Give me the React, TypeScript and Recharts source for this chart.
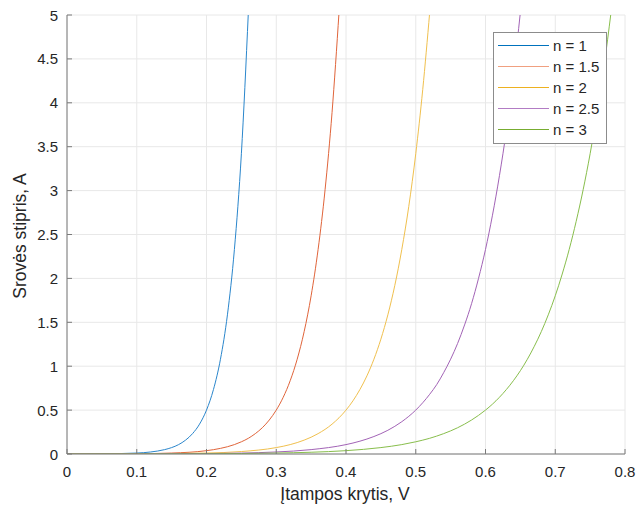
import React from 'react';
import { LineChart, Line, XAxis, YAxis, CartesianGrid } from 'recharts';

const xTicks = [0, 0.1, 0.2, 0.3, 0.4, 0.5, 0.6, 0.7, 0.8];
const yTicks = [0, 0.5, 1, 1.5, 2, 2.5, 3, 3.5, 4, 4.5, 5];
const seriesNames = ['n = 1', 'n = 1.5', 'n = 2', 'n = 2.5', 'n = 3'];
const seriesColors = ['#2a86cc', '#e0643a', '#f0c04e', '#a263b6', '#88be4c'];
const legendColors = ['#0072BD', '#f0a080', '#EDB120', '#b27cc4', '#77AC30'];

// n = 1
const v1 = [0, 0.05, 0.1, 0.12, 0.14, 0.15, 0.16, 0.17, 0.18, 0.19, 0.2, 0.21, 0.22, 0.23, 0.24, 0.25, 0.26];
const i1 = [0, 0.002, 0.011, 0.023, 0.05, 0.073, 0.107, 0.158, 0.232, 0.34, 0.5, 0.735, 1.079, 1.585, 2.33, 3.42, 5.03];
// n = 1.5
const v15 = [0, 0.1, 0.15, 0.2, 0.22, 0.24, 0.25, 0.26, 0.27, 0.28, 0.29, 0.3, 0.31, 0.32, 0.33, 0.34, 0.35, 0.36, 0.37, 0.38, 0.39];
const i15 = [0, 0.003, 0.011, 0.038, 0.064, 0.107, 0.139, 0.179, 0.232, 0.299, 0.387, 0.5, 0.646, 0.835, 1.079, 1.394, 1.802, 2.33, 3.01, 3.89, 5.03];
// n = 2
const v2 = [0, 0.1, 0.2, 0.25, 0.3, 0.32, 0.34, 0.36, 0.38, 0.4, 0.41, 0.42, 0.43, 0.44, 0.45, 0.46, 0.47, 0.48, 0.49, 0.5, 0.51, 0.52];
const i2 = [0, 0.002, 0.011, 0.028, 0.073, 0.107, 0.158, 0.232, 0.34, 0.5, 0.606, 0.735, 0.89, 1.079, 1.308, 1.585, 1.921, 2.33, 2.82, 3.42, 4.15, 5.03];
// n = 2.5
const v25 = [0, 0.1, 0.2, 0.3, 0.35, 0.4, 0.42, 0.44, 0.46, 0.48, 0.5, 0.52, 0.53, 0.54, 0.55, 0.56, 0.57, 0.58, 0.59, 0.6, 0.61, 0.62, 0.63, 0.64, 0.65];
const i25 = [0, 0.001, 0.005, 0.023, 0.05, 0.107, 0.146, 0.199, 0.27, 0.368, 0.5, 0.68, 0.79, 0.926, 1.08, 1.259, 1.47, 1.712, 2.0, 2.33, 2.72, 3.17, 3.69, 4.31, 5.03];
// n = 3
const v3 = [0, 0.1, 0.2, 0.3, 0.35, 0.4, 0.45, 0.48, 0.5, 0.52, 0.54, 0.56, 0.58, 0.6, 0.61, 0.62, 0.63, 0.64, 0.65, 0.66, 0.67, 0.68, 0.69, 0.7, 0.71, 0.72, 0.73, 0.74, 0.75, 0.76, 0.77, 0.78];
const i3 = [0, 0.001, 0.003, 0.011, 0.02, 0.038, 0.073, 0.107, 0.139, 0.179, 0.232, 0.299, 0.387, 0.5, 0.568, 0.646, 0.735, 0.835, 0.949, 1.079, 1.227, 1.394, 1.585, 1.802, 2.05, 2.33, 2.65, 3.01, 3.42, 3.89, 4.42, 5.03];

const toPoints = (v: number[], i: number[]) => v.map((x, k) => ({ v: x, i: i[k] }));
const seriesData = [toPoints(v1, i1), toPoints(v15, i15), toPoints(v2, i2), toPoints(v25, i25), toPoints(v3, i3)];

const FONT = '"Liberation Sans", Arial, Helvetica, sans-serif';
const TEXT = '#262626';
const AXIS = '#7a7a7a';
const TICK_LEN = 5;

const BottomTick = (props: any) => {
  const { x, y, payload } = props;
  return (
    <g>
      <line x1={x} y1={y} x2={x} y2={y - TICK_LEN} stroke={AXIS} />
      <text x={x} y={y + 23} textAnchor="middle" fontSize={15} fontFamily={FONT} fill={TEXT}>{payload.value}</text>
    </g>
  );
};
const TopTick = (props: any) => {
  const { x, y } = props;
  return <line x1={x} y1={y} x2={x} y2={y + TICK_LEN} stroke={AXIS} />;
};
const LeftTick = (props: any) => {
  const { x, y, payload } = props;
  return (
    <g>
      <line x1={x} y1={y} x2={x + TICK_LEN} y2={y} stroke={AXIS} />
      <text x={x - 9} y={y + 5.5} textAnchor="end" fontSize={15} fontFamily={FONT} fill={TEXT}>{payload.value}</text>
    </g>
  );
};
const RightTick = (props: any) => {
  const { x, y } = props;
  return <line x1={x} y1={y} x2={x - TICK_LEN} y2={y} stroke={AXIS} />;
};

const XTitle = () => (
  <text x={345} y={500} textAnchor="middle" fontSize={17.5} fontFamily={FONT} fill={TEXT}>Įtampos krytis, V</text>
);
const YTitle = () => (
  <text x={25.5} y={236} textAnchor="middle" fontSize={17.5} fontFamily={FONT} fill={TEXT} transform="rotate(-90 25.5 236)">Srovės stipris, A</text>
);

export default function App() {
  return (
    <div style={{ position: 'absolute', left: 0, top: 0, width: 638, height: 509 }}>
      <LineChart width={638} height={509} margin={{ top: 15, right: 13, bottom: 15, left: 17 }}>
        <CartesianGrid stroke="#e8e8e8" />
        <XAxis
          dataKey="v"
          type="number"
          domain={[0, 0.8]}
          ticks={xTicks}
          height={40}
          tickSize={0}
          tickMargin={0}
          tick={<BottomTick />}
          axisLine={{ stroke: AXIS }}
          tickLine={false}
          allowDataOverflow
          label={XTitle}
        />
        <XAxis
          xAxisId="top"
          orientation="top"
          type="number"
          domain={[0, 0.8]}
          ticks={xTicks}
          height={0}
          tickSize={0}
          tickMargin={0}
          tick={<TopTick />}
          axisLine={{ stroke: AXIS }}
          tickLine={false}
        />
        <YAxis
          type="number"
          domain={[0, 5]}
          ticks={yTicks}
          width={50}
          tickSize={0}
          tickMargin={0}
          tick={<LeftTick />}
          axisLine={{ stroke: AXIS }}
          tickLine={false}
          allowDataOverflow
          label={YTitle}
        />
        <YAxis
          yAxisId="right"
          orientation="right"
          type="number"
          domain={[0, 5]}
          ticks={yTicks}
          width={0}
          tickSize={0}
          tickMargin={0}
          tick={<RightTick />}
          axisLine={{ stroke: AXIS }}
          tickLine={false}
        />
        {seriesData.map((d, k) => (
          <Line
            key={seriesNames[k]}
            data={d}
            dataKey="i"
            name={seriesNames[k]}
            type="monotone"
            stroke={seriesColors[k]}
            strokeWidth={1}
            dot={false}
            activeDot={false}
            isAnimationActive={false}
          />
        ))}
      </LineChart>
      <div style={{ position: 'absolute', left: 493, top: 32, width: 114, height: 112 }}>
        <svg width={114} height={112}>
          <rect x={0.5} y={0.5} width={113} height={111} fill="#ffffff" stroke="#8c8c8c" />
          {seriesNames.map((name, k) => (
            <g key={name}>
              <line x1={5} y1={13.5 + k * 21} x2={56} y2={13.5 + k * 21} stroke={legendColors[k]} strokeWidth={1} />
              <text x={60} y={19 + k * 21} fontSize={15} fontFamily={FONT} fill={TEXT}>{name}</text>
            </g>
          ))}
        </svg>
      </div>
    </div>
  );
}
